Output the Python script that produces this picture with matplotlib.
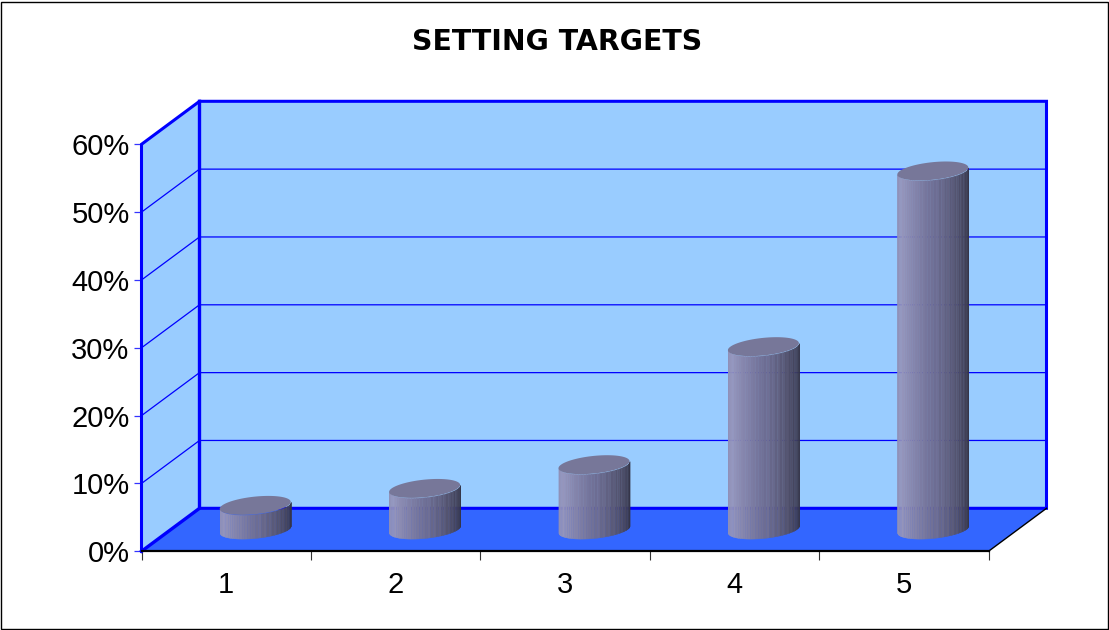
import numpy as np
import matplotlib
matplotlib.use("Agg")
import matplotlib.pyplot as plt
from matplotlib.patches import Polygon, Rectangle
from matplotlib.colors import LinearSegmentedColormap

categories = ["1", "2", "3", "4", "5"]
values = [3.5, 6.0, 9.5, 26.9, 52.8]
y_ticks = [0, 10, 20, 30, 40, 50, 60]
y_labels = ["0%", "10%", "20%", "30%", "40%", "50%", "60%"]
title = "SETTING TARGETS"

W, H = 1109, 630
fig = plt.figure(figsize=(W / 100, H / 100), dpi=100, facecolor="white")
ax = fig.add_axes([141.5 / W, (H - 551.3) / H, 847 / W, 407 / H])
ax.set_xlim(0.5, 5.5)
ax.set_ylim(0, 60)
ax.patch.set_visible(False)

# Depth of the oblique projection, in data units
dx = 58 / (847 / 5)
dy = 43 / (407 / 60)
BLUE = "#0000FF"
WALL = "#99CCFF"
FLOOR = "#3366FF"
x0, x1, y0, y1 = 0.5, 5.5, 0, 60

ax.add_patch(Polygon([(x0, y0), (x1, y0), (x1 + dx, y0 + dy), (x0 + dx, y0 + dy)],
                     fc=FLOOR, ec="none", clip_on=False, zorder=1))
ax.add_patch(Rectangle((x0 + dx, y0 + dy), x1 - x0, y1 - y0,
                       fc=WALL, ec="none", clip_on=False, zorder=1))
ax.add_patch(Polygon([(x0, y0), (x0 + dx, y0 + dy), (x0 + dx, y1 + dy), (x0, y1)],
                     fc=WALL, ec="none", clip_on=False, zorder=1))

# Gridlines run along the side wall and across the back wall
for t in y_ticks[1:-1]:
    ax.plot([x0, x0 + dx, x1 + dx], [t, t + dy, t + dy], color=BLUE, lw=0.9,
            clip_on=False, zorder=2)

# Heavy wall outlines
ax.plot([x0, x0 + dx, x0 + dx], [y0, y0 + dy, y1 + dy], color=BLUE, lw=2.4,
        clip_on=False, zorder=3, solid_joinstyle="miter")
ax.plot([x0, x0, x0 + dx, x1 + dx, x1 + dx, x0 + dx],
        [y0, y1, y1 + dy, y1 + dy, y0 + dy, y0 + dy], color=BLUE, lw=2.2,
        clip_on=False, zorder=3, solid_joinstyle="miter")
ax.plot([x1, x1 + dx], [y0, y0 + dy], color="black", lw=1.0, clip_on=False, zorder=3)

# Cylinders: vertical shaded strips capped by a tilted ellipse
cyl_cmap = LinearSegmentedColormap.from_list(
    "cyl", ["#8F8FB5", "#9595BC", "#8383AA", "#6F6F95", "#5A5A78", "#44445C", "#2F2F40"])
half_w = 35.5 / (847 / 5)
minor = 8.8 / (407 / 60)
tilt = 3.5 / (407 / 60)
strips = 40
for pos, val in enumerate(values, start=1):
    cx = pos + dx / 2
    base = dy / 2 + 0.1
    top = base + val
    edges = np.linspace(np.pi, 0, strips + 1)
    for i in range(strips):
        t = np.linspace(edges[i], edges[i + 1], 5)
        xs = cx + half_w * np.cos(t)
        arc = -minor * np.sin(t) + tilt * np.cos(t)
        shade = (i + 0.5) / strips
        if i % 2 and shade > 0.5:
            shade -= 0.04
        ax.fill_between(xs, base + arc, top + arc, color=cyl_cmap(shade), lw=0.3,
                        clip_on=False, zorder=4)
    t = np.linspace(0, 2 * np.pi, 120)
    ax.fill(cx + half_w * np.cos(t), top + minor * np.sin(t) + tilt * np.cos(t),
            color="#777799", lw=0, clip_on=False, zorder=5)

# Axes furniture
for side in ("top", "right", "left"):
    ax.spines[side].set_visible(False)
ax.spines["bottom"].set_color("black")
ax.spines["bottom"].set_linewidth(1.6)
ax.spines["bottom"].set_zorder(3.5)

font = "Liberation Sans"
ax.set_yticks(y_ticks, y_labels, fontsize=21, family=font, color="black")
ax.tick_params(axis="y", length=6, width=0.9, color="#3333FF", pad=2.6)
ax.set_xticks(np.arange(0.5, 6.0, 1.0), [""] * 6)
ax.tick_params(axis="x", which="major", length=6.5, width=0.8, color="#333333")
ax.set_xticks(np.arange(1, 6), categories, minor=True, fontsize=21, family=font)
ax.tick_params(axis="x", which="minor", length=0, pad=14)

fig.text(557 / W, 1 - 42.5 / H, title, fontsize=20.4, fontweight="bold", family="DejaVu Sans",
         ha="center", va="center", color="black")

# Outer chart border
fig.add_artist(Rectangle((1 / W, 1 / H), (W - 2) / W, (H - 2.5) / H, transform=fig.transFigure,
                         fc="none", ec="black", lw=1.0))

fig.savefig("out.png", dpi=100, facecolor="white")
